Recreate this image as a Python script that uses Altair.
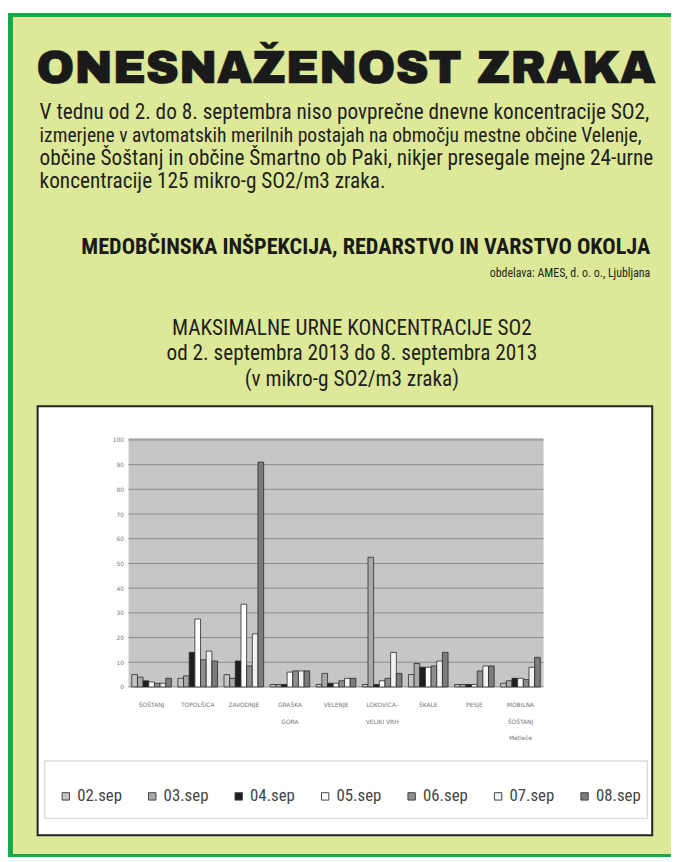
import subprocess
import altair as alt
import pandas as pd

# ---------------- data ----------------
STATIONS = ["ŠOŠTANJ", "TOPOLŠICA", "ZAVODNJE", "GRAŠKA\nGORA", "VELENJE",
            "LOKOVICA-\nVELIKI VRH", "ŠKALE", "PESJE", "MOBILNA\nŠOŠTANJ\nMetleče"]
DAYS = ["02.sep", "03.sep", "04.sep", "05.sep", "06.sep", "07.sep", "08.sep"]

SEP02 = [5.0, 3.5, 5.0, 1.0, 1.0, 1.0, 5.0, 1.0, 1.5]
SEP03 = [4.0, 4.5, 3.5, 1.0, 5.5, 52.5, 9.5, 1.0, 2.5]
SEP04 = [2.5, 14.0, 10.5, 1.0, 1.5, 1.0, 8.0, 1.0, 3.5]
SEP05 = [2.0, 27.5, 33.5, 6.0, 1.5, 2.5, 8.0, 1.0, 3.5]
SEP06 = [1.5, 11.0, 8.5, 6.5, 2.5, 3.5, 8.5, 6.5, 3.0]
SEP07 = [1.5, 14.5, 21.5, 6.5, 3.5, 14.0, 10.5, 8.5, 8.0]
SEP08 = [3.5, 10.5, 91.0, 6.5, 3.5, 5.5, 14.0, 8.5, 12.0]
SERIES = [SEP02, SEP03, SEP04, SEP05, SEP06, SEP07, SEP08]

DAY_COLORS = ["#c4c4c4", "#a9a9a9", "#1e1e1e", "#ffffff", "#8e8e8e", "#f2f2f2", "#7c7c7c"]
Y_TICKS = [0, 10, 20, 30, 40, 50, 60, 70, 80, 90, 100]

TITLE = "ONESNAŽENOST ZRAKA"
PARAGRAPH = [
    "V tednu od 2. do 8. septembra  niso povprečne dnevne koncentracije SO2,",
    "izmerjene v avtomatskih merilnih postajah na območju mestne občine Velenje,",
    "občine Šoštanj in občine Šmartno ob Paki, nikjer presegale mejne 24-urne",
    "koncentracije 125 mikro-g SO2/m3 zraka.",
]
HEADING = "MEDOBČINSKA INŠPEKCIJA, REDARSTVO IN VARSTVO OKOLJA"
CREDIT = "obdelava: AMES, d. o. o., Ljubljana"
CHART_TITLE = [
    "MAKSIMALNE URNE KONCENTRACIJE SO2",
    "od 2. septembra 2013 do 8. septembra 2013",
    "(v mikro-g SO2/m3 zraka)",
]

rows = []
for day, vals in zip(DAYS, SERIES):
    for st, v in zip(STATIONS, vals):
        rows.append({"station": st, "day": day, "value": v})
bars_df = pd.DataFrame(rows)
ticks_df = pd.DataFrame({"tick": Y_TICKS})

# ---------------- font selection ----------------
try:
    FAMS = subprocess.run(["fc-list", ":", "family"], capture_output=True,
                          text=True, timeout=10).stdout
except Exception:
    FAMS = ""
fam_set = set()
for ln in FAMS.splitlines():
    for f in ln.split(","):
        fam_set.add(f.strip())


def pick(cands, default):
    for c in cands:
        if c in fam_set:
            return c
    return default


COND_NAME = pick(["Roboto Condensed", "Archivo Narrow", "PT Sans Narrow",
                  "Asap Condensed", "Barlow Condensed", "Liberation Sans Narrow"], "Roboto Condensed")
BLACK_NAME = pick(["Archivo Black"], "")
COND = f"'{COND_NAME}', 'Liberation Sans Narrow', 'Liberation Sans', sans-serif"

# ---------------- layout (page px -> chart px, page margin 8) ----------------
W, H = 671, 854
PLOT_L, PLOT_R, PLOT_T, PLOT_B = 122, 542, 430, 682
Y_TOP = 432

one = pd.DataFrame({"k": [0]})


def box(x1, x2, y1, y2, **kw):
    return alt.Chart(one).mark_rect(**kw).encode(
        x=alt.value(x1), x2=alt.value(x2), y=alt.value(y1), y2=alt.value(y2))


def label(text, x, y, **kw):
    return alt.Chart(pd.DataFrame({"t": [text]})).mark_text(**kw).encode(
        x=alt.value(x), y=alt.value(y), text="t:N")


layers = [
    box(0, W, 0, H, color="#17a84b"),
    box(5, W, 4, 851, color="#dde899"),
    box(30, 652, 398, 832, fill="#ffffff", stroke="#222222", strokeWidth=2),
    box(37, 647, 757, 815, fill="#ffffff", stroke="#dcdcdc", strokeWidth=1.5),
    box(PLOT_L, PLOT_R, PLOT_T, PLOT_B, color="#c6c6c6"),
]

if BLACK_NAME:
    layers.append(label(TITLE, 342, 71, align="center", baseline="alphabetic",
                        font=f"'{BLACK_NAME}', 'DejaVu Sans'", fontSize=46.5,
                        color="#1a1a1a", stroke="#1a1a1a", strokeWidth=0.6))
else:
    layers.append(label(TITLE, 342, 68, align="center", baseline="alphabetic",
                        font="DejaVu Sans", fontSize=46, fontWeight="bold",
                        color="#1a1a1a", stroke="#1a1a1a", strokeWidth=1.3))

PARA_SIZES = [21.5, 19.8, 21.5, 21.5]
for i, (line, fs) in enumerate(zip(PARAGRAPH, PARA_SIZES)):
    layers.append(label(line, 32, 107 + i * 23.5, align="left", baseline="alphabetic",
                        font=COND, fontSize=fs, color="#1f1f1f"))
layers.append(label(HEADING, 650, 244, align="right", baseline="alphabetic",
                    font=COND, fontSize=22.5, fontWeight="bold", color="#1a1a1a"))
layers.append(label(CREDIT, 650, 267, align="right", baseline="alphabetic",
                    font=COND, fontSize=12, color="#1f1f1f"))
for i, line in enumerate(CHART_TITLE):
    layers.append(label(line, 348, 326 + i * 25.5, align="center", baseline="alphabetic",
                        font=COND, fontSize=21.5, color="#1f1f1f"))

yscale = alt.Scale(domain=[0, 100], range=[PLOT_B, Y_TOP], nice=False)
yaxis = alt.Axis(title=None, orient="left", offset=-PLOT_L, values=Y_TICKS,
                 domain=False, ticks=False, grid=False, labelPadding=5, zindex=2,
                 labelFontSize=6, labelColor="#777777", labelFont="DejaVu Sans")

grid = alt.Chart(ticks_df).mark_rule(color="#8a8a8a", strokeWidth=1).encode(
    y=alt.Y("tick:Q", scale=yscale, axis=yaxis),
    x=alt.value(PLOT_L), x2=alt.value(PLOT_R))
layers.append(grid)

bars = alt.Chart(bars_df).mark_bar(stroke="#2a2a2a", strokeWidth=0.8).encode(
    x=alt.X("station:N",
            scale=alt.Scale(domain=STATIONS, range=[PLOT_L, PLOT_R],
                            paddingInner=0.14, paddingOuter=0.07),
            sort=STATIONS,
            axis=alt.Axis(title=None, orient="bottom", offset=PLOT_B - H, zindex=2,
                          domain=False, ticks=False, labelAngle=0,
                          labelPadding=15, labelFontSize=6, labelColor="#777777",
                          labelFont="DejaVu Sans", labelLineHeight=16.5,
                          labelExpr="split(datum.label, '\\n')")),
    xOffset=alt.XOffset("day:N", scale=alt.Scale(domain=DAYS, paddingInner=0)),
    y=alt.Y("value:Q", scale=yscale, axis=yaxis),
    color=alt.Color("day:N", scale=alt.Scale(domain=DAYS, range=DAY_COLORS),
                    legend=alt.Legend(title=None, orient="none", legendX=50, legendY=784,
                                      direction="horizontal", columns=7,
                                      symbolType="square", symbolSize=56,
                                      symbolStrokeColor="#444444", symbolStrokeWidth=1,
                                      labelFont=COND, labelFontSize=17,
                                      labelColor="#444444", columnPadding=21.5,
                                      labelOffset=3)),
)
layers.append(bars)

chart = alt.layer(*layers).properties(
    width=W, height=H, padding=0, autosize=alt.AutoSizeParams(type="none"),
    background="#ffffff",
).configure_view(stroke=None)

chart.save("out.html", embed_options={"renderer": "svg", "actions": False})
